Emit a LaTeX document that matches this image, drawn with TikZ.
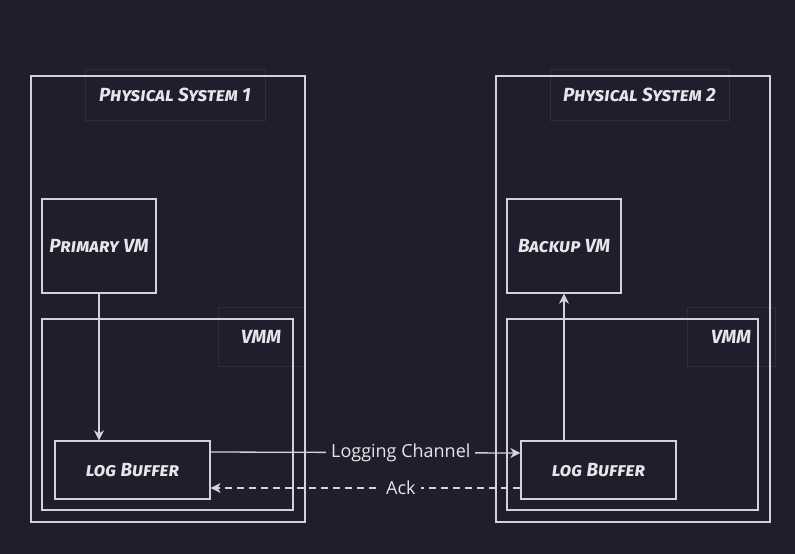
\documentclass[tikz,border=0pt]{standalone}
\usepackage{fontspec}
\usetikzlibrary{arrows.meta,positioning}
\newfontfamily\handfont[Letters=SmallCaps]{Fira Sans}
\newfontfamily\labelfont{Open Sans}
\definecolor{bg}{HTML}{1F1E2D}
\definecolor{ln}{HTML}{D2D2DA}
\definecolor{tx}{HTML}{E6E6EA}
\definecolor{faint}{HTML}{2E2E33}
\tikzset{
  handtext/.style={text=tx, font=\handfont\bfseries\itshape\fontsize{19}{22}\selectfont},
  box/.style={draw=ln, line width=1.3pt, rectangle, inner sep=0pt, handtext},
  faintbox/.style={draw=faint, line width=1pt, rectangle, inner sep=0pt, handtext},
  conn/.style={draw=ln, line width=1.3pt, -{Stealth[length=10pt,width=10pt,inset=3pt]}},
  chanlbl/.style={fill=bg, text=tx, inner sep=5pt, font=\labelfont\fontsize{18}{21}\selectfont}
}
\begin{document}
\begin{tikzpicture}[x=1pt,y=-1pt]
\fill[bg] (0,0) rectangle (795,554);
\useasboundingbox (0,0) rectangle (795,554);
% faint label boxes
\node[faintbox, minimum width=180pt, minimum height=51pt] (t1) at (175,94.5) {Physical System 1};
\node[faintbox, minimum width=179pt, minimum height=51pt] (t2) at (639.5,94.5) {Physical System 2};
\node[faintbox, minimum width=86pt, minimum height=59pt] (m1) at (261,336.5) {};
\node[faintbox, minimum width=88pt, minimum height=59pt] (m2) at (731,336.5) {};
% main boxes
\node[box, minimum width=274pt, minimum height=446pt] (ps1) at (168,299) {};
\node[box, minimum width=274pt, minimum height=446pt] (ps2) at (633,299) {};
\node[box, minimum width=114pt, minimum height=94pt] (pvm) at (99,246) {Primary VM};
\node[box, minimum width=114pt, minimum height=94pt] (bvm) at (564,246) {Backup VM};
\node[box, minimum width=251pt, minimum height=191pt] (vmm1) at (167.5,414.5) {};
\node[box, minimum width=251pt, minimum height=191pt] (vmm2) at (632.5,414.5) {};
\node[box, minimum width=155pt, minimum height=58pt] (lb1) at (132.5,470) {log Buffer};
\node[box, minimum width=155pt, minimum height=58pt] (lb2) at (598.5,470) {log Buffer};
% VMM labels
\node[handtext] (v1) at (m1.center) {VMM};
\node[handtext] (v2) at (m2.center) {VMM};
% connectors
\draw[conn] (pvm.south) -- (pvm.south |- lb1.north);
\draw[conn] (bvm.south |- lb2.north) -- (bvm.south);
\draw[conn] ([yshift=18pt]lb1.east) -- node[chanlbl, pos=0.614] (lc) {Logging Channel} ([yshift=17pt]lb2.west);
\draw[conn, dashed, dash pattern=on 7pt off 5pt] ([yshift=-18pt]lb2.west) -- node[chanlbl, pos=0.386] (ack) {Ack} ([yshift=-18pt]lb1.east);
\end{tikzpicture}
\end{document}
